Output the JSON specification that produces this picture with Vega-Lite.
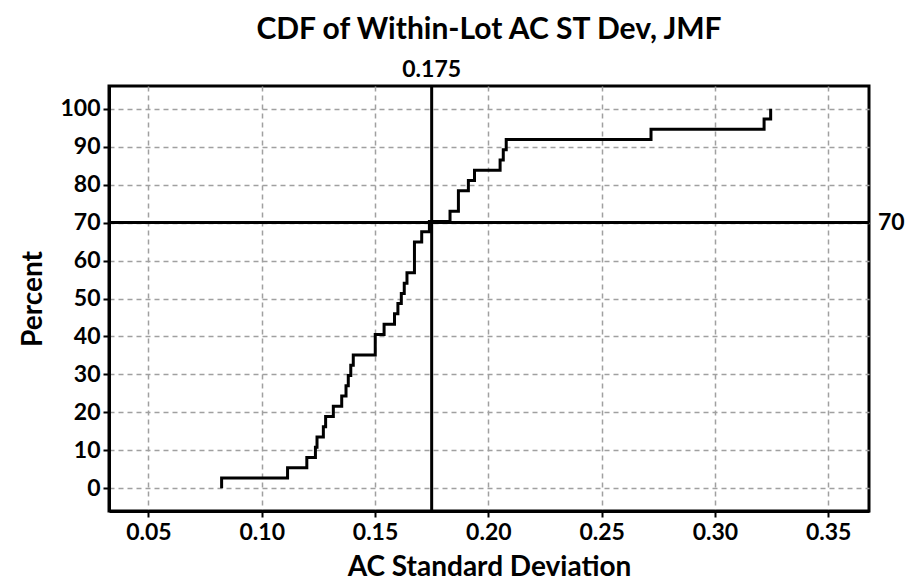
{
  "$schema": "https://vega.github.io/schema/vega-lite/v6.json",
  "width": 760,
  "height": 425,
  "autosize": "none",
  "padding": {"left": 109, "top": 86, "right": 40, "bottom": 75},
  "background": "white",
  "config": {
    "font": "Lato",
    "view": {"stroke": "black", "strokeWidth": 3},
    "axis": {
      "labelFont": "Lato", "labelFontWeight": "bold", "labelFontSize": 23, "labelColor": "black",
      "titleFont": "Lato", "titleFontWeight": "bold", "titleFontSize": 28, "titleColor": "black",
      "domainColor": "black", "domainWidth": 3,
      "tickColor": "black", "tickWidth": 2, "tickSize": 6,
      "gridColor": "#a0a0a0", "gridDash": [5, 4], "gridWidth": 1.5
    }
  },
  "title": {
    "text": "CDF of Within-Lot AC ST Dev, JMF",
    "font": "Lato", "fontSize": 30, "fontWeight": "bold", "color": "black",
    "anchor": "middle", "frame": "group", "baseline": "alphabetic", "offset": -10
  },
  "datasets": {
    "ecdf": [
      {"ac_sd": 0.0823, "percent": 0},
      {"ac_sd": 0.0823, "percent": 2.70},
      {"ac_sd": 0.1114, "percent": 5.41},
      {"ac_sd": 0.1199, "percent": 8.11},
      {"ac_sd": 0.1237, "percent": 10.81},
      {"ac_sd": 0.1244, "percent": 13.51},
      {"ac_sd": 0.1272, "percent": 16.22},
      {"ac_sd": 0.1282, "percent": 18.92},
      {"ac_sd": 0.1316, "percent": 21.62},
      {"ac_sd": 0.1353, "percent": 24.32},
      {"ac_sd": 0.1372, "percent": 27.03},
      {"ac_sd": 0.1382, "percent": 29.73},
      {"ac_sd": 0.1393, "percent": 32.43},
      {"ac_sd": 0.1404, "percent": 35.14},
      {"ac_sd": 0.1501, "percent": 40.54},
      {"ac_sd": 0.1540, "percent": 43.24},
      {"ac_sd": 0.1586, "percent": 45.95},
      {"ac_sd": 0.1601, "percent": 48.65},
      {"ac_sd": 0.1616, "percent": 51.35},
      {"ac_sd": 0.1629, "percent": 54.05},
      {"ac_sd": 0.1641, "percent": 56.76},
      {"ac_sd": 0.1674, "percent": 64.86},
      {"ac_sd": 0.1706, "percent": 67.57},
      {"ac_sd": 0.1740, "percent": 70.27},
      {"ac_sd": 0.1831, "percent": 72.97},
      {"ac_sd": 0.1868, "percent": 78.38},
      {"ac_sd": 0.1912, "percent": 81.08},
      {"ac_sd": 0.1939, "percent": 83.78},
      {"ac_sd": 0.2052, "percent": 86.49},
      {"ac_sd": 0.2066, "percent": 89.19},
      {"ac_sd": 0.2079, "percent": 91.89},
      {"ac_sd": 0.2718, "percent": 94.59},
      {"ac_sd": 0.3217, "percent": 97.30},
      {"ac_sd": 0.3246, "percent": 100}
    ],
    "refs": [
      {"ac_sd": 0.175, "percent": 70}
    ],
    "labels": [
      {"ac_sd": 0.175, "percent": 106, "label": "0.175", "pos": "top"},
      {"ac_sd": 0.368, "percent": 70, "label": "70", "pos": "right"}
    ]
  },
  "layer": [
    {
      "data": {"name": "ecdf"},
      "mark": {"type": "line", "interpolate": "step-after", "color": "black", "strokeWidth": 3},
      "encoding": {
        "x": {
          "field": "ac_sd", "type": "quantitative", "title": "AC Standard Deviation",
          "scale": {"domain": [0.0326, 0.368], "nice": false, "zero": false},
          "axis": {"values": [0.05, 0.10, 0.15, 0.20, 0.25, 0.30, 0.35], "format": ".2f", "labelPadding": 4, "titlePadding": 9}
        },
        "y": {
          "field": "percent", "type": "quantitative", "title": "Percent",
          "scale": {"domain": [-6, 106], "nice": false, "zero": false},
          "axis": {"values": [0, 10, 20, 30, 40, 50, 60, 70, 80, 90, 100], "labelPadding": 3, "titlePadding": 12}
        }
      }
    },
    {
      "data": {"name": "refs"},
      "mark": {"type": "rule", "color": "black", "strokeWidth": 3},
      "encoding": {"x": {"field": "ac_sd", "type": "quantitative"}}
    },
    {
      "data": {"name": "refs"},
      "mark": {"type": "rule", "color": "black", "strokeWidth": 3},
      "encoding": {"y": {"field": "percent", "type": "quantitative"}}
    },
    {
      "data": {"name": "labels"},
      "transform": [{"filter": "datum.pos === 'top'"}],
      "mark": {"type": "text", "font": "Lato", "fontSize": 23, "fontWeight": "bold", "color": "black", "align": "center", "baseline": "alphabetic", "dy": -9},
      "encoding": {
        "x": {"field": "ac_sd", "type": "quantitative"},
        "y": {"field": "percent", "type": "quantitative"},
        "text": {"field": "label"}
      }
    },
    {
      "data": {"name": "labels"},
      "transform": [{"filter": "datum.pos === 'right'"}],
      "mark": {"type": "text", "font": "Lato", "fontSize": 23, "fontWeight": "bold", "color": "black", "align": "left", "baseline": "middle", "dx": 9},
      "encoding": {
        "x": {"field": "ac_sd", "type": "quantitative"},
        "y": {"field": "percent", "type": "quantitative"},
        "text": {"field": "label"}
      }
    }
  ]
}
